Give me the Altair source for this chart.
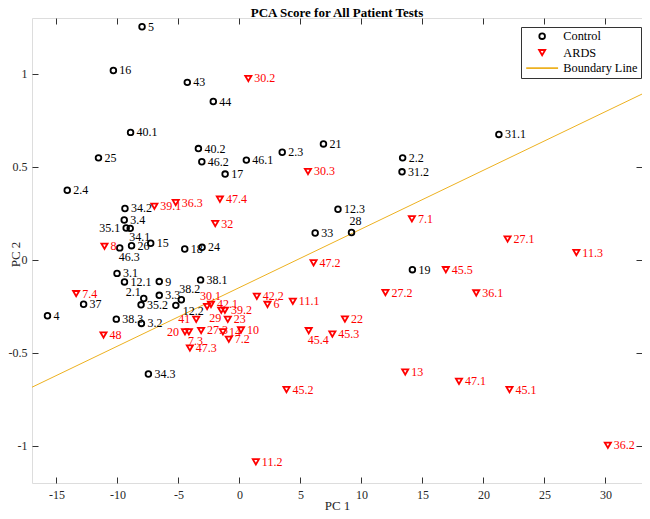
import altair as alt
import pandas as pd

# ---------------- data ----------------
control_labels = ["5", "16", "43", "44", "40.1", "25", "40.2", "46.2", "46.1", "2.3", "21", "17",
                  "2.2", "31.2", "31.1", "2.4", "34.2", "3.4", "35.1", "34.1", "26", "15", "46.3",
                  "18", "24", "33", "28", "12.3", "19", "3.1", "12.1", "9", "38.1", "2.1", "3.3",
                  "35.2", "38.2", "12.2", "37", "4", "38.3", "3.2", "34.3"]
control_pc1 = [-7.98, -10.33, -4.27, -2.14, -8.92, -11.55, -3.36, -3.08, 0.57, 3.51, 6.89, -1.17,
               13.38, 13.33, 21.27, -14.11, -9.38, -9.44, -9.28, -8.95, -8.84, -7.27, -9.81,
               -4.48, -3.06, 6.21, 9.19, 8.08, 14.18, -10.03, -9.42, -6.57, -3.18, -7.84, -6.57,
               -8.06, -4.76, -5.21, -12.77, -15.73, -10.09, -8.03, -7.46]
control_pc2 = [1.253, 1.018, 0.954, 0.851, 0.685, 0.548, 0.598, 0.527, 0.536, 0.578, 0.623, 0.461,
               0.548, 0.473, 0.674, 0.374, 0.276, 0.214, 0.171, 0.169, 0.076, 0.089, 0.064,
               0.058, 0.067, 0.144, 0.147, 0.272, -0.053, -0.073, -0.119, -0.117, -0.108, -0.208, -0.191,
               -0.242, -0.215, -0.245, -0.239, -0.301, -0.319, -0.342, -0.614]

ards_labels = ["30.2", "30.3", "39.1", "36.3", "47.4", "32", "8", "7.1", "27.1", "11.3", "47.2",
               "45.5", "27.2", "36.1", "7.4", "42.2", "6", "11.1", "30.1", "42.1", "29", "39.2",
               "23", "41", "20", "7.3", "27.3", "14", "10", "7.2", "47.3", "48", "22", "45.4",
               "45.3", "13", "47.1", "45.1", "45.2", "36.2", "11.2"]
ards_pc1 = [0.73, 5.62, -6.97, -5.22, -1.60, -1.98, -11.06, 14.14, 21.98, 27.62, 6.08,
            16.92, 11.97, 19.41, -13.38, 1.43, 2.30, 4.38, -2.65, -2.33, -1.49, -1.19,
            -0.95, -3.54, -4.46, -4.14, -3.14, -1.35, 0.13, -0.87, -4.06, -11.14, 8.65, 5.68,
            7.62, 13.59, 18.00, 22.14, 3.86, 30.20, 1.35]
ards_pc2 = [0.975, 0.475, 0.288, 0.308, 0.326, 0.195, 0.073, 0.220, 0.112, 0.039, -0.016,
            -0.053, -0.176, -0.178, -0.182, -0.196, -0.240, -0.223, -0.251, -0.240, -0.271, -0.271,
            -0.320, -0.320, -0.387, -0.387, -0.380, -0.387, -0.377, -0.427, -0.474, -0.404, -0.319, -0.381,
            -0.399, -0.603, -0.653, -0.698, -0.698, -0.997, -1.086]

boundary_pc1 = [-17, 33]
boundary_pc2 = [-0.685, 0.891]

x_ticks = [-15, -10, -5, 0, 5, 10, 15, 20, 25, 30]
y_ticks = [-1, -0.5, 0, 0.5, 1]
groups = ["Control", "ARDS", "Boundary Line"]

# where each label sits relative to its marker (default: right)
label_side = {"28": "a", "38.2": "a", "12.2": "br", "35.1": "l", "34.1": "b", "46.3": "b",
              "2.1": "lu", "30.1": "al", "29": "bl", "41": "l", "20": "l", "7.3": "b", "45.4": "b"}

# ---------------- styling ----------------
W, H = 610, 465
FONT = "Liberation Serif"
FRAME = "#333333"
side_style = {  # dx, dy, align
    "r": (6, 0, "left"), "l": (-6, 0, "right"), "a": (-2, -11, "left"),
    "al": (-7, -10, "left"), "b": (-1, 9, "left"), "bl": (0, 8, "right"),
    "lu": (-3, -6, "right"), "br": (7, 6, "left"),
}

rows = []
for lab, a, b in zip(control_labels, control_pc1, control_pc2):
    rows.append({"group": "Control", "label": lab, "pc1": a, "pc2": b})
for lab, a, b in zip(ards_labels, ards_pc1, ards_pc2):
    rows.append({"group": "ARDS", "label": lab, "pc1": a, "pc2": b})
points = pd.DataFrame(rows)
points["side"] = [label_side.get(l, "r") for l in points["label"]]
boundary = pd.DataFrame({"pc1": boundary_pc1, "pc2": boundary_pc2})

x_scale = alt.Scale(domain=[-17, 33], nice=False, zero=False)
y_scale = alt.Scale(domain=[-1.2, 1.3], nice=False, zero=False)
color_scale = alt.Scale(domain=groups, range=["#000000", "#FF0000", "#EDB120"])
shape_scale = alt.Scale(domain=groups, range=["circle", "triangle-down", "M-4.8,0L4.8,0"])

legend = alt.Legend(orient="none", legendX=489, legendY=9, title=None, direction="vertical",
                    fillColor="white", strokeColor=FRAME, padding=3,
                    symbolOffset=12, labelOffset=15, symbolSize=36, symbolStrokeWidth=1.8,
                    labelFont=FONT, labelFontSize=12.3, labelColor="black", rowPadding=2.5,
                    labelLimit=200)

lbl_expr = "'' + datum.value"

line = alt.Chart(boundary).mark_line(color="#EDB120", strokeWidth=1, clip=True).encode(
    x=alt.X("pc1:Q", scale=x_scale,
            axis=alt.Axis(orient="bottom", values=x_ticks, ticks=False, domain=False, grid=False,
                          labelExpr=lbl_expr, labelFont=FONT, labelFontSize=12, labelPadding=6,
                          labelColor="#262626", title="PC 1", titleFont=FONT, titleFontSize=13,
                          titleFontWeight="normal", titleColor="#262626", titleY=22,
                          titleBaseline="middle")),
    y=alt.Y("pc2:Q", scale=y_scale,
            axis=alt.Axis(orient="left", values=y_ticks, ticks=False, domain=False, grid=False,
                          labelExpr=lbl_expr, labelFont=FONT, labelFontSize=12, labelPadding=5,
                          labelColor="#262626", title="PC 2", titleFont=FONT, titleFontSize=13,
                          titleFontWeight="normal", titleColor="#262626", titleX=-17, titleY=236,
                          titleAngle=-90, titleBaseline="middle", titleAlign="center")),
)

pts = alt.Chart(points).mark_point(filled=False, strokeWidth=1.8, opacity=1).encode(
    x=alt.X("pc1:Q", scale=x_scale, axis=None),
    y=alt.Y("pc2:Q", scale=y_scale, axis=None),
    color=alt.Color("group:N", scale=color_scale, legend=legend),
    shape=alt.Shape("group:N", scale=shape_scale, legend=legend),
    size=alt.Size("group:N", scale=alt.Scale(domain=groups, range=[32, 44, 10]), legend=None),
)

text_layers = []
for side, (dx, dy, align) in side_style.items():
    text_layers.append(
        alt.Chart(points).transform_filter(alt.datum.side == side).mark_text(
            align=align, baseline="middle", dx=dx, dy=dy, font=FONT, fontSize=12
        ).encode(
            x=alt.X("pc1:Q", scale=x_scale, axis=None),
            y=alt.Y("pc2:Q", scale=y_scale, axis=None),
            text="label:N",
            color=alt.condition(alt.datum.group == "ARDS", alt.value("#FF0000"), alt.value("#000000")),
        )
    )

tick_kw = dict(labels=False, domain=False, grid=False, ticks=True, tickSize=6, tickWidth=1,
               tickColor=FRAME, title=None)
ticks_a = alt.Chart(boundary).mark_point(opacity=0).encode(
    x=alt.X("pc1:Q", scale=x_scale, axis=alt.Axis(orient="top", offset=-H, values=x_ticks, **tick_kw)),
    y=alt.Y("pc2:Q", scale=y_scale, axis=alt.Axis(orient="right", offset=-W, values=y_ticks, **tick_kw)),
)
ticks_b = alt.Chart(boundary).mark_point(opacity=0).encode(
    x=alt.X("pc1:Q", scale=x_scale, axis=alt.Axis(orient="bottom", offset=-H, values=x_ticks, **tick_kw)),
    y=alt.Y("pc2:Q", scale=y_scale, axis=alt.Axis(orient="left", offset=-W, values=y_ticks, **tick_kw)),
)

chart = alt.layer(line, pts, *text_layers, ticks_a, ticks_b).properties(
    width=W, height=H,
    title=alt.TitleParams("PCA Score for All Patient Tests", font=FONT, fontSize=13,
                          fontWeight="bold", anchor="middle", offset=-2, color="black"),
    autosize=alt.AutoSizeParams(type="none"),
    padding={"left": 24, "top": 10, "right": 0, "bottom": 28},
).configure_view(stroke=FRAME, strokeWidth=1.2).configure(background="white")

chart.save("out.html", embed_options={"renderer": "svg", "actions": False})
